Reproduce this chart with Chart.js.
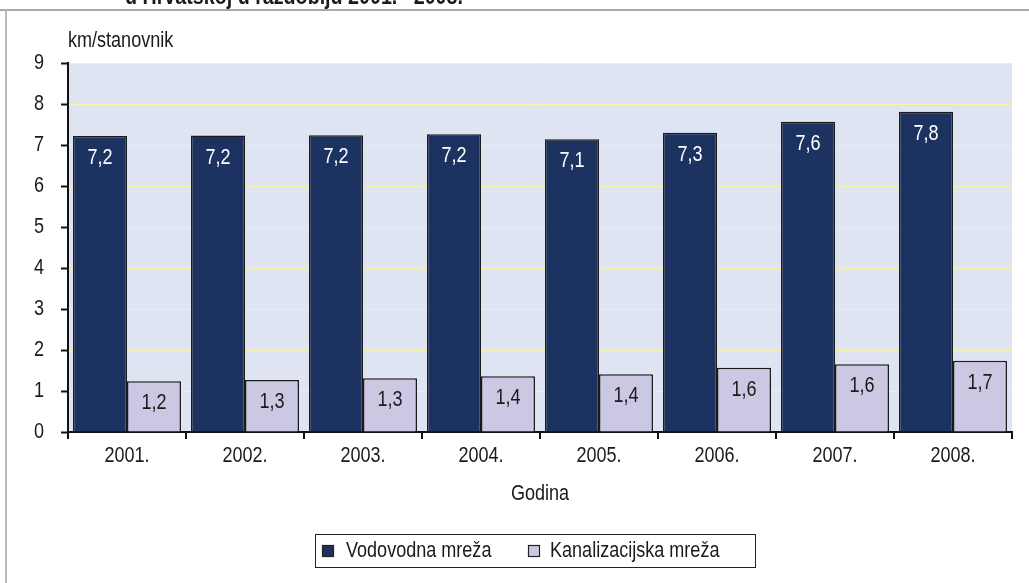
<!DOCTYPE html>
<html>
<head>
<meta charset="utf-8">
<script src="https://cdn.jsdelivr.net/npm/chart.js@4.4.1/dist/chart.umd.min.js"></script>
<style>
html,body{margin:0;padding:0;background:#fff;}
#wrap{position:relative;width:1029px;height:583px;}
</style>
</head>
<body>
<div id="wrap"><canvas id="c" width="1029" height="583"></canvas></div>
<script>
const categories = ['2001.', '2002.', '2003.', '2004.', '2005.', '2006.', '2007.', '2008.'];
const vodovodna = [7.22, 7.23, 7.24, 7.26, 7.14, 7.30, 7.57, 7.81];
const kanalizacija = [1.24, 1.27, 1.31, 1.36, 1.41, 1.57, 1.65, 1.74];
const vodovodnaLabels = ['7,2', '7,2', '7,2', '7,2', '7,1', '7,3', '7,6', '7,8'];
const kanalizacijaLabels = ['1,2', '1,3', '1,3', '1,4', '1,4', '1,6', '1,6', '1,7'];
const yTicks = [0, 1, 2, 3, 4, 5, 6, 7, 8, 9];
const seriesNames = ['Vodovodna mreža', 'Kanalizacijska mreža'];
const yTitle = 'km/stanovnik';
const xTitle = 'Godina';
const topTitle = 'u Hrvatskoj u razdoblju 2001.– 2008.';

const FONT = '"Liberation Sans", Arial, sans-serif';
const NARROW = 0.82;
const DARK = '#1c3261';
const LIGHT = '#cbc8e4';
const TXT = '#1a1a1a';

function narrowText(ctx, text, x, y, size, align, color, bold) {
  ctx.save();
  ctx.translate(x, y);
  ctx.scale(NARROW, 1);
  ctx.font = (bold ? 'bold ' : '') + size + 'px ' + FONT;
  ctx.textAlign = align;
  ctx.textBaseline = 'middle';
  ctx.fillStyle = color;
  ctx.fillText(text, 0, 0);
  ctx.restore();
}

const decor = {
  id: 'decor',
  beforeDraw(chart) {
    const {ctx, chartArea: a} = chart;
    ctx.save();
    ctx.fillStyle = '#dfe4f2';
    ctx.fillRect(a.left, a.top, a.right - a.left, a.bottom - a.top);
    ctx.restore();
  },
  afterDatasetsDraw(chart) {
    const ctx = chart.ctx;
    const lbls = [vodovodnaLabels, kanalizacijaLabels];
    const cols = ['#ffffff', TXT];
    chart.data.datasets.forEach((ds, di) => {
      chart.getDatasetMeta(di).data.forEach((bar, i) => {
        narrowText(ctx, lbls[di][i], bar.x, bar.y + 22, 22, 'center', cols[di]);
      });
    });
  },
  afterDraw(chart) {
    const {ctx, chartArea: a, scales} = chart;
    // tick labels
    scales.x.ticks.forEach((t, i) => {
      narrowText(ctx, chart.data.labels[i], scales.x.getPixelForTick(i), 456, 22, 'center', TXT);
    });
    scales.y.ticks.forEach(t => {
      narrowText(ctx, String(t.value), a.left - 24, scales.y.getPixelForValue(t.value), 22, 'right', TXT);
    });
    ctx.save();
    // frame lines
    ctx.fillStyle = '#a8a8ad';
    ctx.fillRect(0, 9, 1029, 2);
    ctx.fillStyle = '#b8b8bd';
    ctx.fillRect(5, 9, 2, 583);
    ctx.restore();
    // cut-off title
    ctx.save();
    ctx.translate(125, 4);
    ctx.scale(NARROW, 1);
    ctx.font = 'bold 24px ' + FONT;
    ctx.textAlign = 'left';
    ctx.textBaseline = 'alphabetic';
    ctx.fillStyle = TXT;
    ctx.fillText(topTitle, 0, 0);
    ctx.restore();
    // titles
    narrowText(ctx, yTitle, 68, 41, 22, 'left', TXT);
    narrowText(ctx, xTitle, (a.left + a.right) / 2, 494, 22, 'center', TXT);
    // legend
    ctx.save();
    const lx = 315, ly = 534, lw = 440, lh = 33;
    ctx.fillStyle = '#fff';
    ctx.fillRect(lx, ly, lw, lh);
    ctx.strokeStyle = '#222';
    ctx.lineWidth = 1;
    ctx.strokeRect(lx + 0.5, ly + 0.5, lw, lh);
    const items = [{x: 322, tx: 346}, {x: 528, tx: 550}];
    chart.data.datasets.forEach((ds, i) => {
      const it = items[i];
      ctx.fillStyle = ds.backgroundColor;
      ctx.fillRect(it.x, 545, 12, 12);
      ctx.strokeStyle = '#222';
      ctx.lineWidth = 1.2;
      ctx.strokeRect(it.x + 0.5, 545.5, 11, 11);
      narrowText(ctx, ds.label, it.tx, 551, 22, 'left', TXT);
    });
    ctx.restore();
  }
};

new Chart(document.getElementById('c'), {
  type: 'bar',
  data: {
    labels: categories,
    datasets: [
      {label: seriesNames[0], data: vodovodna, backgroundColor: DARK, borderColor: '#1a1a1a', borderWidth: 1.5, borderSkipped: 'bottom'},
      {label: seriesNames[1], data: kanalizacija, backgroundColor: LIGHT, borderColor: '#1a1a1a', borderWidth: 1.5, borderSkipped: 'bottom'}
    ]
  },
  options: {
    responsive: false,
    animation: false,
    devicePixelRatio: 1,
    layout: {padding: {top: 63, right: 17, left: 0, bottom: 0}},
    datasets: {bar: {categoryPercentage: 0.915, barPercentage: 1}},
    plugins: {legend: {display: false}, tooltip: {enabled: false}, title: {display: false}},
    scales: {
      x: {
        grid: {offset: true, drawOnChartArea: false, color: '#111', tickLength: 7, tickWidth: 2, lineWidth: 2},
        border: {color: '#111', width: 2},
        ticks: {display: false},
        afterFit(s) { s.height = 151; }
      },
      y: {
        min: 0, max: 9,
        afterBuildTicks(s) { s.ticks = yTicks.map(v => ({value: v})); },
        grid: {color: '#f7f3a8', lineWidth: 1, tickColor: '#111', tickLength: 7, tickWidth: 2},
        border: {color: '#111', width: 2},
        ticks: {display: false},
        afterFit(s) { s.width = 68; }
      }
    }
  },
  plugins: [decor]
});
</script>
</body>
</html>
